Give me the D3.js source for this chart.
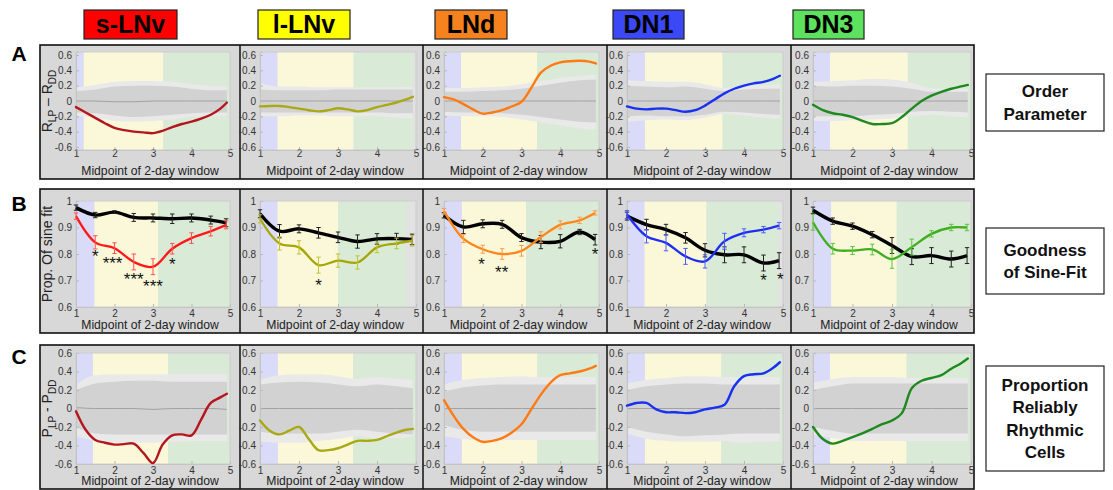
<!DOCTYPE html>
<html>
<head>
<meta charset="utf-8">
<script src="https://cdn.jsdelivr.net/npm/d3@7"></script>
<style>
  body { margin: 0; background: #fff; }
  svg { display: block; font-family: Arial, "Liberation Sans", sans-serif; }
</style>
</head>
<body>
<script>
// ---------------- data ----------------
const cellNames = ["s-LNv", "l-LNv", "LNd", "DN1", "DN3"];
const rowTitles = [["Order", "Parameter"], ["Goodness", "of Sine-Fit"], ["Proportion", "Reliably", "Rhythmic", "Cells"]];
const panelLetters = ["A", "B", "C"];
const xTicks = [1, 2, 3, 4, 5];
const diffTicks = [-0.6, -0.4, -0.2, 0, 0.2, 0.4, 0.6];
const sineTicks = [0.6, 0.7, 0.8, 0.9, 1];
const xTitle = "Midpoint of 2-day window";

// x positions of the samples
const xFine = [1, 1.25, 1.5, 1.75, 2, 2.25, 2.5, 2.75, 3, 3.25, 3.5, 3.75, 4, 4.25, 4.5, 4.75, 4.92];
const xBand = [1, 1.5, 2, 2.5, 3, 3.5, 4, 4.5, 4.92];
const xWin = [1, 1.5, 2, 2.5, 3, 3.5, 4, 4.5, 4.9];

// phase shading ends (blue -> yellow -> green), per row, per cell
const phaseBlue = [[1.2, 1.45, 1.44, 1.46, 1.43], [1.48, 1.45, 1.46, 1.45, 1.46], [1.44, 1.46, 1.46, 1.46, 1.43]];
const phaseYellow = [[3.27, 3.4, 3.4, 3.45, 3.4], [3.13, 3.0, 3.12, 3.04, 3.12], [3.39, 3.39, 3.41, 3.42, 3.37]];
const phaseGreen = [[5, 4.92, 5, 5, 5], [5, 4.74, 5, 4.88, 5], [5, 5, 5, 5, 5]];

// A: order parameter R_LP - R_DD
const orderSLNv = [-0.08, -0.15, -0.22, -0.29, -0.35, -0.38, -0.40, -0.41, -0.42, -0.39, -0.34, -0.30, -0.27, -0.23, -0.18, -0.10, -0.02];
const orderLLNv = [-0.07, -0.065, -0.065, -0.08, -0.10, -0.12, -0.135, -0.12, -0.095, -0.11, -0.135, -0.12, -0.08, -0.05, -0.02, 0.02, 0.055];
const orderLNd = [0.05, 0.02, -0.04, -0.11, -0.165, -0.15, -0.12, -0.07, -0.01, 0.17, 0.37, 0.46, 0.505, 0.52, 0.525, 0.515, 0.49];
const orderDN1 = [-0.07, -0.10, -0.11, -0.10, -0.10, -0.12, -0.14, -0.12, -0.06, 0.02, 0.10, 0.16, 0.20, 0.23, 0.25, 0.29, 0.33];
const orderDN3 = [-0.05, -0.12, -0.16, -0.18, -0.21, -0.26, -0.30, -0.30, -0.29, -0.21, -0.10, 0.00, 0.07, 0.12, 0.16, 0.19, 0.21];
const orderLines = [orderSLNv, orderLLNv, orderLNd, orderDN1, orderDN3];

const orderOuterHi = [
  [0.18, 0.21, 0.25, 0.26, 0.26, 0.25, 0.22, 0.20, 0.19],
  [0.24, 0.19, 0.19, 0.18, 0.18, 0.18, 0.18, 0.18, 0.19],
  [0.17, 0.17, 0.18, 0.19, 0.22, 0.26, 0.30, 0.33, 0.34],
  [0.27, 0.26, 0.25, 0.25, 0.22, 0.17, 0.20, 0.21, 0.22],
  [0.25, 0.26, 0.27, 0.29, 0.28, 0.24, 0.17, 0.16, 0.16]];
const orderInnerHi = [
  [0.13, 0.15, 0.19, 0.20, 0.20, 0.19, 0.16, 0.14, 0.14],
  [0.15, 0.14, 0.14, 0.14, 0.15, 0.15, 0.15, 0.15, 0.15],
  [0.12, 0.12, 0.13, 0.14, 0.16, 0.20, 0.24, 0.27, 0.28],
  [0.20, 0.19, 0.18, 0.19, 0.16, 0.13, 0.15, 0.16, 0.16],
  [0.20, 0.19, 0.20, 0.20, 0.19, 0.16, 0.12, 0.12, 0.12]];
const orderMid = [
  [0.00, 0.00, -0.01, -0.01, 0.00, 0.00, 0.00, 0.00, 0.00],
  [0.00, 0.00, 0.00, 0.00, 0.00, 0.00, 0.00, 0.00, 0.00],
  [0.00, 0.00, 0.00, 0.00, 0.00, 0.00, 0.00, 0.00, 0.00],
  [0.00, 0.00, 0.00, 0.00, 0.00, 0.00, 0.00, 0.00, 0.00],
  [0.00, 0.00, 0.00, 0.00, 0.00, 0.00, 0.00, 0.00, 0.00]];
const orderInnerLo = [
  [-0.15, -0.16, -0.19, -0.21, -0.20, -0.18, -0.16, -0.15, -0.15],
  [-0.15, -0.15, -0.15, -0.15, -0.15, -0.15, -0.15, -0.16, -0.16],
  [-0.14, -0.15, -0.15, -0.16, -0.18, -0.21, -0.24, -0.27, -0.28],
  [-0.20, -0.19, -0.20, -0.20, -0.18, -0.14, -0.15, -0.17, -0.18],
  [-0.20, -0.20, -0.20, -0.18, -0.17, -0.14, -0.13, -0.14, -0.15]];
const orderOuterLo = [
  [-0.20, -0.22, -0.26, -0.27, -0.26, -0.24, -0.21, -0.20, -0.20],
  [-0.20, -0.20, -0.19, -0.19, -0.20, -0.20, -0.20, -0.22, -0.23],
  [-0.19, -0.20, -0.20, -0.21, -0.24, -0.28, -0.32, -0.36, -0.38],
  [-0.27, -0.25, -0.24, -0.25, -0.22, -0.17, -0.19, -0.22, -0.23],
  [-0.26, -0.26, -0.25, -0.24, -0.23, -0.20, -0.18, -0.20, -0.22]];

// B: proportion of sine fit (black = control, coloured = LP)
const sineCtrl = [
  [0.975, 0.947, 0.958, 0.938, 0.936, 0.933, 0.936, 0.928, 0.918],
  [0.952, 0.886, 0.895, 0.880, 0.863, 0.847, 0.857, 0.858, 0.855],
  [0.946, 0.902, 0.914, 0.912, 0.862, 0.845, 0.848, 0.883, 0.854],
  [0.943, 0.911, 0.892, 0.861, 0.814, 0.797, 0.797, 0.766, 0.775],
  [0.965, 0.924, 0.905, 0.873, 0.832, 0.790, 0.794, 0.781, 0.794]];
const sineCtrlErr = [
  [0.010, 0.010, 0.005, 0.015, 0.015, 0.018, 0.015, 0.015, 0.015],
  [0.015, 0.025, 0.015, 0.020, 0.020, 0.025, 0.020, 0.020, 0.020],
  [0.010, 0.025, 0.015, 0.015, 0.015, 0.025, 0.025, 0.010, 0.020],
  [0.015, 0.020, 0.020, 0.020, 0.025, 0.030, 0.030, 0.030, 0.030],
  [0.012, 0.012, 0.012, 0.012, 0.030, 0.030, 0.030, 0.030, 0.030]];
const sineExp = [
  [0.943, 0.844, 0.822, 0.770, 0.752, 0.820, 0.860, 0.886, 0.910],
  [0.933, 0.840, 0.825, 0.758, 0.775, 0.768, 0.825, 0.840, 0.850],
  [0.962, 0.858, 0.818, 0.800, 0.812, 0.864, 0.910, 0.927, 0.955],
  [0.949, 0.867, 0.842, 0.791, 0.772, 0.848, 0.880, 0.892, 0.907],
  [0.920, 0.820, 0.813, 0.817, 0.781, 0.826, 0.876, 0.900, 0.900]];
const sineExpErr = [
  [0.012, 0.025, 0.020, 0.030, 0.030, 0.020, 0.020, 0.018, 0.015],
  [0.015, 0.025, 0.025, 0.030, 0.025, 0.025, 0.020, 0.020, 0.020],
  [0.010, 0.015, 0.015, 0.020, 0.020, 0.020, 0.015, 0.012, 0.008],
  [0.015, 0.025, 0.030, 0.030, 0.025, 0.030, 0.015, 0.012, 0.012],
  [0.030, 0.020, 0.015, 0.020, 0.035, 0.030, 0.012, 0.012, 0.012]];

// significance stars in row B
const starCell = [0, 0, 0, 0, 0, 1, 2, 2, 2, 3, 3];
const starX = [1.5, 1.95, 2.5, 3.0, 3.5, 2.5, 1.97, 2.49, 4.9, 4.5, 4.93];
const starY = [0.80, 0.774, 0.712, 0.685, 0.771, 0.69, 0.77, 0.74, 0.807, 0.71, 0.715];
const starText = ["*", "***", "***", "***", "*", "*", "*", "**", "*", "*", "*"];

// C: proportion reliably rhythmic P_LP - P_DD
const rhythSLNv = [-0.03, -0.23, -0.34, -0.37, -0.39, -0.385, -0.38, -0.48, -0.59, -0.39, -0.29, -0.28, -0.29, -0.12, 0.06, 0.12, 0.16];
const rhythLLNv = [-0.13, -0.24, -0.28, -0.24, -0.20, -0.33, -0.45, -0.45, -0.43, -0.39, -0.35, -0.35, -0.34, -0.30, -0.26, -0.23, -0.22];
const rhythLNd = [0.09, -0.08, -0.22, -0.31, -0.36, -0.35, -0.32, -0.26, -0.17, -0.01, 0.15, 0.28, 0.36, 0.38, 0.40, 0.43, 0.46];
const rhythDN1 = [0.03, 0.06, 0.06, -0.01, -0.04, -0.04, -0.05, -0.04, -0.01, 0.01, 0.04, 0.24, 0.35, 0.37, 0.38, 0.44, 0.50];
const rhythDN3 = [-0.20, -0.33, -0.38, -0.35, -0.31, -0.27, -0.22, -0.17, -0.13, -0.05, 0.22, 0.30, 0.33, 0.36, 0.43, 0.49, 0.54];
const rhythLines = [rhythSLNv, rhythLLNv, rhythLNd, rhythDN1, rhythDN3];

const rhythOuterHi = [
  [0.26, 0.36, 0.37, 0.37, 0.37, 0.37, 0.37, 0.37, 0.37],
  [0.31, 0.36, 0.37, 0.37, 0.35, 0.32, 0.34, 0.32, 0.31],
  [0.26, 0.31, 0.33, 0.34, 0.35, 0.34, 0.34, 0.34, 0.34],
  [0.27, 0.31, 0.33, 0.35, 0.35, 0.34, 0.34, 0.34, 0.34],
  [0.28, 0.32, 0.34, 0.34, 0.34, 0.33, 0.33, 0.33, 0.33]];
const rhythInnerHi = [
  [0.20, 0.27, 0.29, 0.30, 0.30, 0.29, 0.29, 0.29, 0.29],
  [0.26, 0.28, 0.29, 0.28, 0.26, 0.24, 0.26, 0.24, 0.22],
  [0.18, 0.23, 0.25, 0.26, 0.26, 0.26, 0.26, 0.26, 0.26],
  [0.20, 0.24, 0.26, 0.27, 0.27, 0.26, 0.26, 0.26, 0.26],
  [0.20, 0.24, 0.27, 0.27, 0.27, 0.27, 0.27, 0.27, 0.27]];
const rhythMid = [
  [0.01, 0.00, 0.00, 0.00, -0.01, 0.00, 0.00, 0.00, -0.01],
  [0.00, 0.00, 0.00, 0.00, 0.00, 0.00, 0.00, 0.00, 0.00],
  [0.00, 0.00, 0.00, 0.00, 0.00, 0.00, 0.00, 0.00, 0.00],
  [0.00, 0.00, 0.00, 0.00, 0.00, 0.00, 0.00, 0.00, 0.00],
  [0.00, 0.00, 0.00, 0.00, 0.00, 0.00, 0.00, 0.00, 0.00]];
const rhythInnerLo = [
  [-0.20, -0.27, -0.28, -0.28, -0.28, -0.28, -0.28, -0.28, -0.28],
  [-0.25, -0.27, -0.27, -0.27, -0.25, -0.23, -0.25, -0.27, -0.28],
  [-0.18, -0.23, -0.25, -0.25, -0.25, -0.25, -0.25, -0.25, -0.25],
  [-0.20, -0.25, -0.28, -0.30, -0.29, -0.28, -0.27, -0.27, -0.27],
  [-0.20, -0.24, -0.27, -0.27, -0.27, -0.27, -0.27, -0.27, -0.27]];
const rhythOuterLo = [
  [-0.30, -0.35, -0.37, -0.37, -0.37, -0.36, -0.35, -0.35, -0.35],
  [-0.35, -0.37, -0.37, -0.35, -0.33, -0.30, -0.32, -0.32, -0.30],
  [-0.30, -0.33, -0.35, -0.34, -0.34, -0.34, -0.34, -0.34, -0.34],
  [-0.27, -0.33, -0.35, -0.36, -0.36, -0.35, -0.37, -0.36, -0.35],
  [-0.28, -0.32, -0.35, -0.35, -0.35, -0.35, -0.35, -0.35, -0.35]];

// ---------------- colours ----------------
const nameFill = ["#ff0000", "#ffff00", "#f5821f", "#3b48f5", "#5ce25c"];
const darkLine = ["#b4161d", "#a9a815", "#ff7a12", "#1730f2", "#1e8a1e"];
const brightLine = ["#ff1818", "#a6a600", "#ff8618", "#1e2ef2", "#3fae1f"];
const errColor = ["#ff5050", "#c2c232", "#ff9c45", "#4a5cff", "#5cc43c"];

// ---------------- layout ----------------
const W = 1113, H = 490;
const cellEdges = [40, 240, 423, 607, 791, 974];
const plotL = [76, 260, 444, 627, 813];
const plotR = [230, 416, 599, 783, 971];
const nameBoxX = [84, 258, 435, 613, 793];
const nameBoxW = [93, 92, 72, 71, 71];

let rowLayout = [
  {top: 45, bottom: 179, yTop: 52, yBot: 150, domain: [-0.64, 0.64], ticks: diffTicks, tickBase: 157, titleBase: 175, letterBase: 61, box: [74, 131]},
  {top: 189, bottom: 333, yTop: 201, yBot: 307, domain: [0.6, 1.0], ticks: sineTicks, tickBase: 317, titleBase: 329, letterBase: 211, box: [228, 294]},
  {top: 345, bottom: 489, yTop: 353, yBot: 464, domain: [-0.6, 0.6], ticks: diffTicks, tickBase: 474, titleBase: 485, letterBase: 364, box: [366, 471]}
];

let svg = d3.select("body")
  .append("svg")
  .attr("width", W)
  .attr("height", H);

/************** top cell-type labels **************/
cellNames.forEach(function(name, c) {
  svg.append("rect")
    .attr("x", nameBoxX[c]).attr("y", 10)
    .attr("width", nameBoxW[c]).attr("height", 29)
    .attr("fill", nameFill[c])
    .attr("stroke", "#222").attr("stroke-width", 1.2);
  svg.append("text")
    .attr("x", nameBoxX[c] + nameBoxW[c] / 2).attr("y", 33)
    .attr("text-anchor", "middle")
    .attr("font-size", "25px").attr("font-weight", "bold")
    .attr("fill", "#000")
    .text(name);
});

let fmt = function(d) { return String(Math.round(d * 10) / 10); };

/************** rows **************/
rowLayout.forEach(function(L, r) {
  let row = svg.append("g");

  row.append("rect")
    .attr("x", cellEdges[0]).attr("y", L.top)
    .attr("width", cellEdges[5] - cellEdges[0]).attr("height", L.bottom - L.top)
    .attr("fill", "#d8d8d8")
    .attr("stroke", "#111").attr("stroke-width", 1.6);

  cellEdges.slice(1, 5).forEach(function(x) {
    row.append("line")
      .attr("x1", x).attr("x2", x)
      .attr("y1", L.top).attr("y2", L.bottom)
      .attr("stroke", "#111").attr("stroke-width", 1.5);
  });

  // panel letter
  svg.append("text")
    .attr("x", 19).attr("y", L.letterBase)
    .attr("text-anchor", "middle")
    .attr("font-size", "21px").attr("font-weight", "bold")
    .text(panelLetters[r]);

  // row title box on the right
  svg.append("rect")
    .attr("x", 986).attr("y", L.box[0])
    .attr("width", 118).attr("height", L.box[1] - L.box[0])
    .attr("fill", "#fff")
    .attr("stroke", "#222").attr("stroke-width", 1.2);
  let lines = rowTitles[r];
  let mid = (L.box[0] + L.box[1]) / 2;
  lines.forEach(function(t, i) {
    svg.append("text")
      .attr("x", 1045)
      .attr("y", mid + (i - (lines.length - 1) / 2) * 22.5 + 6)
      .attr("text-anchor", "middle")
      .attr("font-size", "17px").attr("font-weight", "bold")
      .attr("fill", "#111")
      .text(t);
  });

  cellNames.forEach(function(name, c) {
    let g = row.append("g");
    let x = d3.scaleLinear().domain([1, 5]).range([plotL[c], plotR[c]]);
    let y = d3.scaleLinear().domain(L.domain).range([L.yBot, L.yTop]);

    // plot background + phases
    g.append("rect")
      .attr("x", x(1)).attr("y", L.yTop)
      .attr("width", x(5) - x(1)).attr("height", L.yBot - L.yTop)
      .attr("fill", "#e2e2e2");
    let phases = [
      [1, phaseBlue[r][c], "#dadaf9"],
      [phaseBlue[r][c], phaseYellow[r][c], "#fbf8da"],
      [phaseYellow[r][c], phaseGreen[r][c], "#d9ead6"]
    ];
    g.selectAll("rect.phase")
      .data(phases)
      .enter()
      .append("rect")
      .attr("class", "phase")
      .attr("x", function(d) { return x(d[0]); })
      .attr("y", L.yTop)
      .attr("width", function(d) { return x(d[1]) - x(d[0]); })
      .attr("height", L.yBot - L.yTop)
      .attr("fill", function(d) { return d[2]; });

    // null-distribution bands (rows A and C)
    if (r !== 1) {
      let oHi = r === 0 ? orderOuterHi[c] : rhythOuterHi[c];
      let iHi = r === 0 ? orderInnerHi[c] : rhythInnerHi[c];
      let md = r === 0 ? orderMid[c] : rhythMid[c];
      let iLo = r === 0 ? orderInnerLo[c] : rhythInnerLo[c];
      let oLo = r === 0 ? orderOuterLo[c] : rhythOuterLo[c];
      let idx = d3.range(xBand.length);
      let band = function(lo, hi) {
        return d3.area()
          .x(function(i) { return x(xBand[i]); })
          .y0(function(i) { return y(lo[i]); })
          .y1(function(i) { return y(hi[i]); })
          .curve(d3.curveMonotoneX);
      };
      g.append("path").datum(idx).attr("d", band(oLo, oHi)).attr("fill", "#e9e9e9");
      g.append("path").datum(idx).attr("d", band(iLo, iHi)).attr("fill", "#d2d2d2");
      g.append("path").datum(idx)
        .attr("d", d3.line()
          .x(function(i) { return x(xBand[i]); })
          .y(function(i) { return y(md[i]); })
          .curve(d3.curveMonotoneX))
        .attr("fill", "none").attr("stroke", "#a2a2a2").attr("stroke-width", 1);
    }

    // axes
    let yAxis = d3.axisLeft(y).tickValues(L.ticks).tickFormat(fmt).tickSize(-3).tickPadding(4);
    let xAxis = d3.axisBottom(x).tickValues(xTicks).tickFormat(fmt).tickSize(-3);
    let ya = g.append("g").attr("transform", "translate(" + x(1) + ",0)").call(yAxis);
    let xa = g.append("g").attr("transform", "translate(0," + L.yBot + ")").call(xAxis);
    [ya, xa].forEach(function(a) {
      a.select(".domain").attr("stroke", "#c2c2c2");
      a.selectAll(".tick line").attr("stroke", "#b8b8b8");
      a.selectAll("text")
        .attr("font-family", "Arial, 'Liberation Sans', sans-serif")
        .attr("font-size", "10px").attr("fill", "#333");
    });
    xa.selectAll("text").attr("y", L.tickBase - L.yBot).attr("dy", 0);
    g.append("rect")
      .attr("x", x(1)).attr("y", L.yTop)
      .attr("width", x(5) - x(1)).attr("height", L.yBot - L.yTop)
      .attr("fill", "none").attr("stroke", "#c8c8c8").attr("stroke-width", 0.8);

    // x title
    g.append("text")
      .attr("x", (x(1) + x(5)) / 2 - 3).attr("y", L.titleBase)
      .attr("text-anchor", "middle")
      .attr("font-size", "12.2px").attr("fill", "#222")
      .text(xTitle);

    if (r === 1) {
      let idx = d3.range(xWin.length);
      let drawSeries = function(vals, errs, lineCol, eCol, lw) {
        g.append("path").datum(idx)
          .attr("d", d3.line()
            .x(function(i) { return x(xWin[i]); })
            .y(function(i) { return y(vals[i]); })
            .curve(d3.curveCatmullRom.alpha(0.5)))
          .attr("fill", "none").attr("stroke", lineCol).attr("stroke-width", lw);
        let eb = g.selectAll(null).data(idx).enter().append("g").attr("stroke", eCol).attr("stroke-width", 1);
        eb.append("line")
          .attr("x1", function(i) { return x(xWin[i]); })
          .attr("x2", function(i) { return x(xWin[i]); })
          .attr("y1", function(i) { return y(vals[i] - errs[i]); })
          .attr("y2", function(i) { return y(vals[i] + errs[i]); });
        [-1, 1].forEach(function(s) {
          eb.append("line")
            .attr("x1", function(i) { return x(xWin[i]) - 2.2; })
            .attr("x2", function(i) { return x(xWin[i]) + 2.2; })
            .attr("y1", function(i) { return y(vals[i] + s * errs[i]); })
            .attr("y2", function(i) { return y(vals[i] + s * errs[i]); });
        });
      };
      drawSeries(sineCtrl[c], sineCtrlErr[c], "#000", "#222", 3.4);
      drawSeries(sineExp[c], sineExpErr[c], brightLine[c], errColor[c], 2.3);

      let stars = d3.range(starCell.length).filter(function(i) { return starCell[i] === c; });
      g.selectAll("text.star")
        .data(stars)
        .enter()
        .append("text")
        .attr("class", "star")
        .attr("x", function(i) { return x(starX[i]); })
        .attr("y", function(i) { return y(starY[i]) + 8; })
        .attr("text-anchor", "middle")
        .attr("font-size", "17px").attr("fill", "#111")
        .text(function(i) { return starText[i]; });
    } else {
      let vals = r === 0 ? orderLines[c] : rhythLines[c];
      g.append("path").datum(d3.range(xFine.length))
        .attr("d", d3.line()
          .x(function(i) { return x(xFine[i]); })
          .y(function(i) { return y(vals[i]); })
          .curve(d3.curveCatmullRom.alpha(0.5)))
        .attr("fill", "none").attr("stroke", darkLine[c]).attr("stroke-width", 2.4)
        .attr("stroke-linecap", "round");
    }

    // y title on the first cell
    if (c === 0) {
      let cy = (L.yTop + L.yBot) / 2;
      let t = g.append("text")
        .attr("transform", "translate(52," + cy + ") rotate(-90)")
        .attr("text-anchor", "middle")
        .attr("font-size", "14px").attr("fill", "#222");
      if (r === 1) {
        t.text("Prop. Of sine fit");
      } else {
        let base = r === 0 ? "R" : "P";
        let dash = r === 0 ? " \u2013 " : " - ";
        t.append("tspan").text(base);
        t.append("tspan").attr("dy", 4).attr("font-size", "10px").text("LP");
        t.append("tspan").attr("dy", -4).text(dash + base);
        t.append("tspan").attr("dy", 4).attr("font-size", "10px").text("DD");
      }
    }
  });
});
</script>
</body>
</html>
